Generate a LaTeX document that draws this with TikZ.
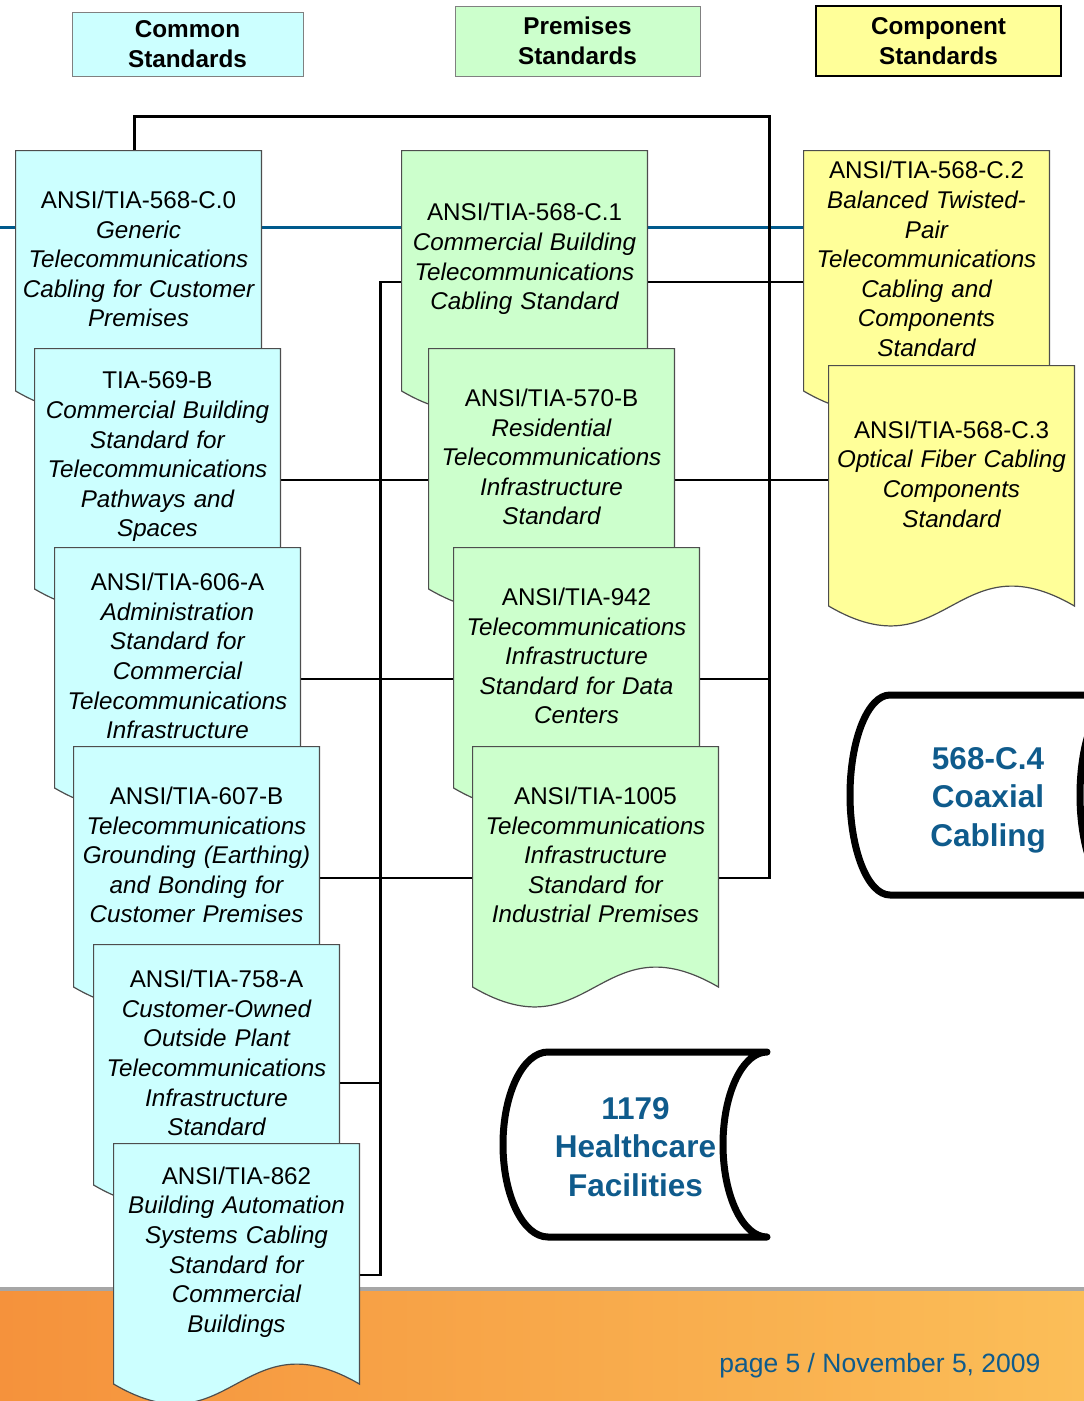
\documentclass[tikz,border=0pt]{standalone}
\usepackage{fontspec}
\setmainfont{Liberation Sans}
\usetikzlibrary{calc}
\definecolor{commonfill}{HTML}{CCFFFF}
\definecolor{premfill}{HTML}{CCFFCC}
\definecolor{compfill}{HTML}{FFFF99}
\definecolor{docline}{HTML}{4D4D4D}
\definecolor{tiablue}{HTML}{0F5B8C}
\definecolor{busblue}{HTML}{005A8C}
\definecolor{footL}{HTML}{F5923C}
\definecolor{footR}{HTML}{FBBE58}
\pgfdeclarelayer{background}
\pgfsetlayers{background,main}
\tikzset{
    stddoc/.style={
        minimum width=247pt,
        minimum height=264pt,
        inner sep=0pt,
        path picture={
            \coordinate (dnw) at (path picture bounding box.north west);
            \path[fill=#1, draw=docline, line width=1.2pt]
                ($(dnw)+(0.6pt,-0.6pt)$) -- ($(dnw)+(246.4pt,-0.6pt)$)
                -- ($(dnw)+(246.4pt,-241pt)$)
                .. controls ($(dnw)+(128pt,-172pt)$) and ($(dnw)+(118pt,-310pt)$)
                .. ($(dnw)+(0.6pt,-241pt)$) -- cycle;}},
    stdtext/.style={
        text width=240pt,
        align=center,
        inner sep=0pt,
        font=\fontsize{24.2}{29.6}\selectfont},
    head/.style={
        draw=gray,
        line width=1pt,
        align=center,
        inner sep=0pt,
        font=\fontsize{24.3}{29.5}\selectfont\bfseries},
    can/.style={
        draw=black,
        fill=white,
        line width=7pt,
        line join=round},
    cantext/.style={
        text=tiablue,
        align=center,
        inner sep=0pt,
        font=\fontsize{31.5}{38.5}\selectfont\bfseries},
    link/.style={
        draw,
        line width=2.8pt},
    buslink/.style={
        draw=busblue,
        line width=3pt}}

\begin{document}
\begin{tikzpicture}[x=1pt, y=-1pt]
    \useasboundingbox (0,0) rectangle (1084,1401);
    \clip (0,0) rectangle (1084,1401);

    % column heads
    \node[head, fill=commonfill, minimum width=231pt, minimum height=64pt] (common) at (187.5,44) {Common\\Standards};
    \node[head, fill=premfill, minimum width=245pt, minimum height=70pt] (premises) at (577.5,41) {Premises\\Standards};
    \node[head, fill=compfill, draw=black, line width=2pt, minimum width=245pt, minimum height=70pt] (component) at (938.5,41) {Component\\Standards};

    % common standards
    \node[stddoc=commonfill] (c0) at (138.5,282) {};
    \node[stdtext] (c0t) at ([yshift=23pt]c0) {ANSI/TIA-568-C.0\\\itshape Generic\\Telecommunications\\Cabling for Customer\\Premises};
    \node[stddoc=commonfill] (c1) at (157.5,480) {};
    \node[stdtext] (c1t) at ([yshift=23pt]c1) {TIA-569-B\\\itshape Commercial Building\\Standard for\\Telecommunications\\Pathways and\\Spaces};
    \node[stddoc=commonfill] (c2) at (177.5,679) {};
    \node[stdtext] (c2t) at ([yshift=23pt]c2) {ANSI/TIA-606-A\\\itshape Administration\\Standard for\\Commercial\\Telecommunications\\Infrastructure};
    \node[stddoc=commonfill] (c3) at (196.5,878) {};
    \node[stdtext] (c3t) at ([yshift=23pt]c3) {ANSI/TIA-607-B\\\itshape Telecommunications\\Grounding (Earthing)\\and Bonding for\\Customer Premises};
    \node[stddoc=commonfill] (c4) at (216.5,1076) {};
    \node[stdtext] (c4t) at ([yshift=23pt]c4) {ANSI/TIA-758-A\\\itshape Customer-Owned\\Outside Plant\\Telecommunications\\Infrastructure\\Standard};
    \node[stddoc=commonfill] (c5) at (236.5,1275) {};
    \node[stdtext] (c5t) at ([yshift=23pt]c5) {ANSI/TIA-862\\\itshape Building Automation\\Systems Cabling\\Standard for\\Commercial\\Buildings};

    % premises standards
    \node[stddoc=premfill] (p0) at (524.5,282) {};
    \node[stdtext] (p0t) at ([yshift=23pt]p0) {ANSI/TIA-568-C.1\\\itshape Commercial Building\\Telecommunications\\Cabling Standard};
    \node[stddoc=premfill] (p1) at (551.5,480) {};
    \node[stdtext] (p1t) at ([yshift=23pt]p1) {ANSI/TIA-570-B\\\itshape Residential\\Telecommunications\\Infrastructure\\Standard};
    \node[stddoc=premfill] (p2) at (576.5,679) {};
    \node[stdtext] (p2t) at ([yshift=23pt]p2) {ANSI/TIA-942\\\itshape Telecommunications\\Infrastructure\\Standard for Data\\Centers};
    \node[stddoc=premfill] (p3) at (595.5,878) {};
    \node[stdtext] (p3t) at ([yshift=23pt]p3) {ANSI/TIA-1005\\\itshape Telecommunications\\Infrastructure\\Standard for\\Industrial Premises};

    % component standards
    \node[stddoc=compfill] (k0) at (926.5,282) {};
    \node[stdtext] (k0t) at ([yshift=23pt]k0) {ANSI/TIA-568-C.2\\\itshape Balanced Twisted-\\Pair\\Telecommunications\\Cabling and\\Components\\Standard};
    \node[stddoc=compfill] (k1) at (951.5,497) {};
    \node[stdtext] (k1t) at ([yshift=23pt]k1) {ANSI/TIA-568-C.3\\\itshape Optical Fiber Cabling\\Components\\Standard};

    % upcoming standards
    \draw[can] (1120,695) -- (890,695) arc (270:90:40 and 100) -- (1120,895) arc (90:270:40 and 100) -- cycle;
    \node[cantext] (coax) at (988,800) {568-C.4\\Coaxial\\Cabling};
    \draw[can] (767,1052) -- (548,1052) arc (270:90:45 and 92.5) -- (767,1237) arc (90:270:44 and 92.5) -- cycle;
    \node[cantext] (health) at (635.5,1147) {1179\\Healthcare\\Facilities};

    \node[anchor=base east, text=tiablue, font=\fontsize{26.5}{30}\selectfont] (page) at (1044,1372) {page 5 / November 5, 2009};

    \begin{pgfonlayer}{background}
        \fill[left color=footL, right color=footR] (0,1291) rectangle (1084,1401);
        \draw[gray!70, line width=4pt] (0,1289) -- (1084,1289);

        \coordinate (rim) at (0,227);
        \coordinate (busR) at ([xshift=50pt]p3.east);
        \coordinate (busL) at ([xshift=-20pt]p0.west);
        \draw[buslink] (rim) -- (rim -| k0.west);

        \draw[link] ([xshift=-4pt]c0.north) -- ++(0,-33) -| (busR) -- (p3.east);
        \draw[link] (p0.east) -- (k0.west);
        \draw[link] (p0.west) -- (busL) |- (c5.east);
        \draw[link] (c1.east) -- (p1.west);
        \draw[link] (p1.east) -- (p1.east -| k1.west);
        \draw[link] (c2.east) -- (p2.west);
        \draw[link] (p2.east) -- (p2.east -| busR);
        \draw[link] (c3.east) -- (p3.west);
        \draw[link] ([yshift=-7pt]c4.east) -- ([yshift=-7pt]c4.east -| busL);
    \end{pgfonlayer}
\end{tikzpicture}
\end{document}
